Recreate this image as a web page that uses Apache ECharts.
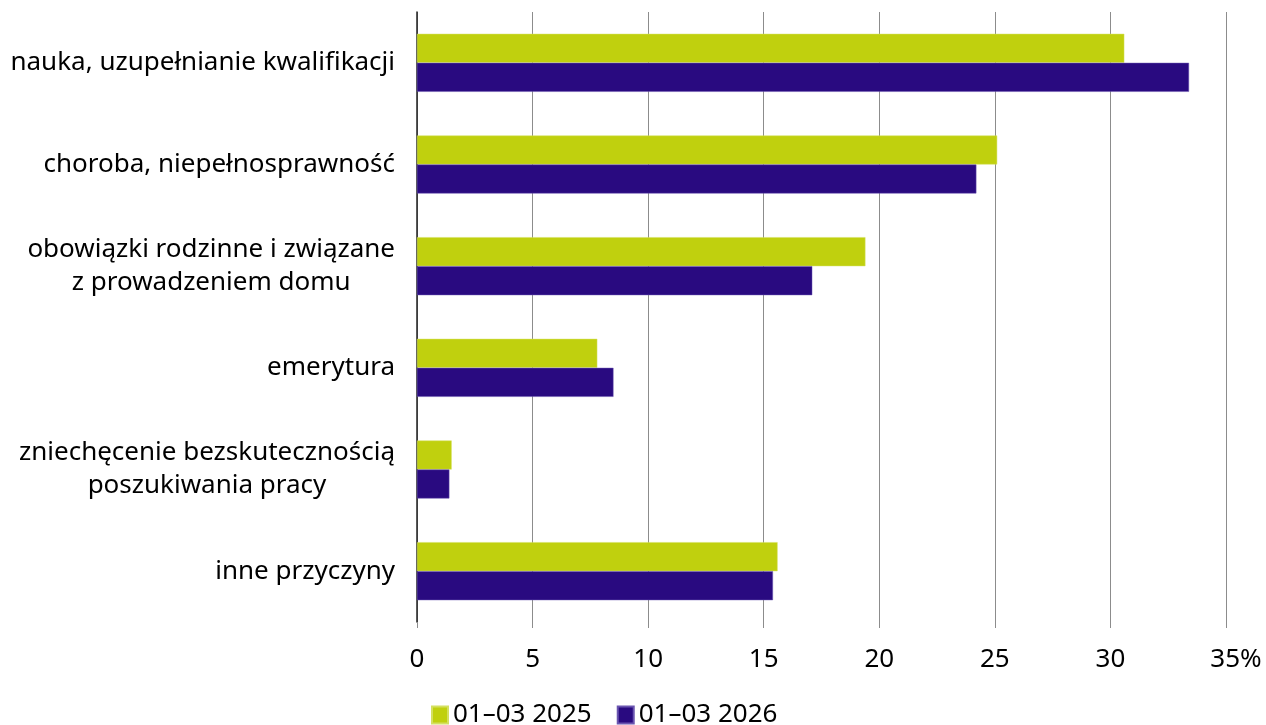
<!DOCTYPE html>
<html>
<head>
<meta charset="utf-8">
<script src="https://cdn.jsdelivr.net/npm/echarts@6/dist/echarts.min.js"></script>
<style>
    html, body { margin: 0; padding: 0; background: #fff; }
    #main { width: 1266px; height: 725px; }
</style>
</head>
<body>
<div id="main"></div>
<script>
var categories = [
    'nauka, uzupełnianie kwalifikacji',
    'choroba, niepełnosprawność',
    'obowiązki rodzinne i związane\nz prowadzeniem domu',
    'emerytura',
    'zniechęcenie bezskutecznością\nposzukiwania pracy',
    'inne przyczyny'
];
var series_names = ['01–03 2025', '01–03 2026'];
var values_2025 = [30.6, 25.1, 19.4, 7.8, 1.5, 15.6];
var values_2026 = [33.4, 24.2, 17.1, 8.5, 1.4, 15.4];
var x_ticks = [0, 5, 10, 15, 20, 25, 30, 35];

var FONT = '"Noto Sans", "Open Sans", sans-serif';
var myChart = echarts.init(document.getElementById('main'));

var option = {
    animation: false,
    textStyle: {fontFamily: FONT},
    legend: {
        data: series_names,
        left: 426,
        bottom: -8,
        itemWidth: 16,
        itemHeight: 17,
        itemGap: 25,
        icon: 'rect',
        textStyle: {fontSize: 26, color: '#000', fontFamily: FONT}
    },
    grid: {left: 417, right: 40, top: 12, height: 610},
    xAxis: {
        type: 'value',
        min: x_ticks[0],
        max: x_ticks[x_ticks.length - 1],
        interval: 5,
        axisLine: {show: false},
        axisTick: {show: true, length: 6, lineStyle: {color: '#8c8c8c'}},
        splitLine: {show: true, lineStyle: {color: '#8c8c8c', width: 1}},
        axisLabel: {
            fontSize: 26,
            color: '#000',
            margin: 25,
            fontFamily: FONT,
            // the % sign sticks out to the right of the last tick
            formatter: function (v) {
                return v === x_ticks[x_ticks.length - 1] ? '{s|}' + v + '%' : String(v);
            },
            rich: {
                s: {width: 20, fontSize: 26}
            }
        }
    },
    yAxis: {
        type: 'category',
        inverse: true,
        data: categories,
        axisLine: {show: true, lineStyle: {color: '#222', width: 1.5}},
        axisTick: {show: false},
        axisLabel: {
            fontSize: 26,
            color: '#000',
            margin: 22,
            lineHeight: 33,
            fontFamily: FONT,
            formatter: function (v) {
                return v.split('\n').map(function (s) { return '{a|' + s + '}'; }).join('\n');
            },
            rich: {
                a: {align: 'center', fontSize: 26, lineHeight: 33, color: '#000', fontFamily: FONT}
            }
        }
    },
    series: [
        {
            name: series_names[0],
            type: 'bar',
            data: values_2025,
            barWidth: 29,
            barGap: '0%',
            itemStyle: {color: '#c0d00e', borderColor: '#d4e060', borderWidth: 0.5}
        },
        {
            name: series_names[1],
            type: 'bar',
            data: values_2026,
            barWidth: 29,
            barGap: '0%',
            itemStyle: {color: '#290a80', borderColor: '#6a55b0', borderWidth: 0.5}
        }
    ]
};

myChart.setOption(option);
</script>
</body>
</html>
